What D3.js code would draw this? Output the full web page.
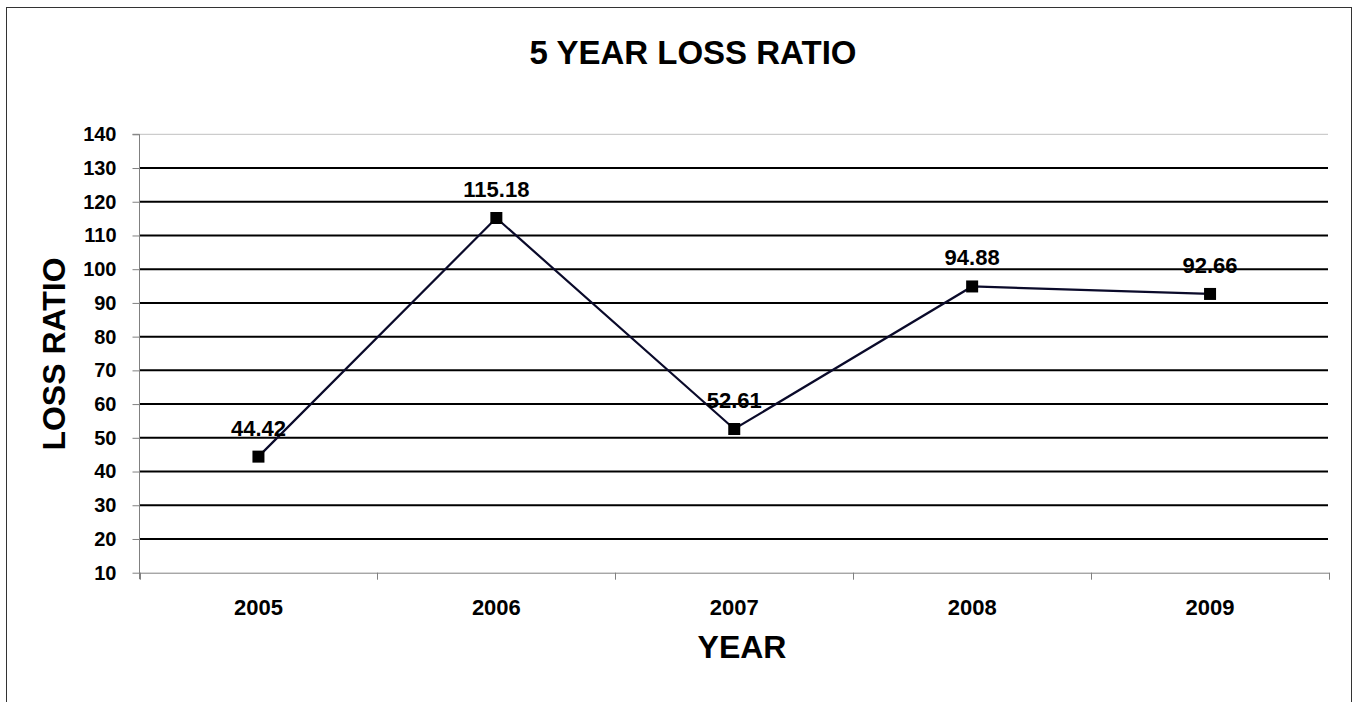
<!DOCTYPE html>
<html>
<head>
<meta charset="utf-8">
<script src="https://cdn.jsdelivr.net/npm/d3@7"></script>
<style>
  html, body { margin: 0; padding: 0; background: #fff; }
  svg { display: block; font-family: "Liberation Sans", Arial, sans-serif; }
</style>
</head>
<body>
<svg id="chart" width="1357" height="702"></svg>
<script>
const years = ["2005", "2006", "2007", "2008", "2009"];
const lossRatio = [44.42, 115.18, 52.61, 94.88, 92.66];
const yTicks = [10, 20, 30, 40, 50, 60, 70, 80, 90, 100, 110, 120, 130, 140];
const titleText = "5 YEAR LOSS RATIO";
const xTitle = "YEAR";
const yTitle = "LOSS RATIO";

const svg = d3.select("#chart");

// outer border
svg.append("rect")
  .attr("x", 6.5).attr("y", 7.5)
  .attr("width", 1345).attr("height", 720)
  .attr("fill", "none").attr("stroke", "#333").attr("stroke-width", 1);

const plotL = 139.5, plotR = 1329, plotT = 134.3, plotB = 572.7;

const x = d3.scaleBand().domain(years).range([plotL, plotR]);
const y = d3.scaleLinear().domain([10, 140]).range([plotB, plotT]);

// gridlines
svg.append("g").selectAll("line")
  .data(yTicks.filter(t => t > 10))
  .join("line")
  .attr("x1", plotL).attr("x2", plotR - 1)
  .attr("y1", d => y(d)).attr("y2", d => y(d))
  .attr("stroke", d => d === 140 ? "#c0c0c0" : "#000")
  .attr("stroke-width", d => d === 140 ? 1 : 2);

// y axis
const yAxis = d3.axisLeft(y).tickValues(yTicks).tickSize(7).tickPadding(16);
const gy = svg.append("g").attr("transform", `translate(${plotL},0)`).call(yAxis);
gy.select(".domain").attr("stroke", "#808080").attr("d", `M-7,${y(140)}H0V${plotB + 6.5}`);
gy.selectAll(".tick line").attr("stroke", "#808080");
gy.selectAll(".tick text")
  .attr("font-size", 20).attr("font-weight", "bold")
  .attr("font-family", "'Liberation Sans', Arial, sans-serif").attr("fill", "#000");

// x axis
const xAxis = d3.axisBottom(x).tickSize(0).tickPadding(0);
const gx = svg.append("g").attr("transform", `translate(0,${plotB})`).call(xAxis);
gx.select(".domain").attr("stroke", "#808080");
gx.selectAll(".tick text")
  .attr("font-size", 22).attr("font-weight", "bold")
  .attr("font-family", "'Liberation Sans', Arial, sans-serif").attr("fill", "#000")
  .attr("dy", null).attr("y", 42);
// boundary ticks
const bounds = years.map(d => x(d)).concat([plotR]);
svg.append("g").selectAll("line").data(bounds).join("line")
  .attr("x1", d => Math.round(d) + 0.5).attr("x2", d => Math.round(d) + 0.5)
  .attr("y1", plotB).attr("y2", plotB + 7)
  .attr("stroke", "#808080");

// line
const cx = d => x(d) + x.bandwidth() / 2;
const line = d3.line().x((d, i) => cx(years[i])).y(d => y(d));
svg.append("path").datum(lossRatio)
  .attr("d", line).attr("fill", "none")
  .attr("stroke", "#0a0a2a").attr("stroke-width", 2.2);

// markers
svg.append("g").selectAll("rect").data(lossRatio).join("rect")
  .attr("x", (d, i) => cx(years[i]) - 6).attr("y", d => y(d) - 6)
  .attr("width", 12).attr("height", 12).attr("fill", "#000");

// labels
svg.append("g").selectAll("text").data(lossRatio).join("text")
  .attr("x", (d, i) => cx(years[i])).attr("y", d => y(d) - 21)
  .attr("text-anchor", "middle")
  .attr("font-size", 22).attr("font-weight", "bold").attr("fill", "#000")
  .text(d => d.toFixed(2));

// title
svg.append("text").attr("x", 693).attr("y", 64)
  .attr("text-anchor", "middle").attr("font-size", 33).attr("font-weight", "bold")
  .text(titleText);

// axis titles
svg.append("text").attr("x", 742).attr("y", 658)
  .attr("text-anchor", "middle").attr("font-size", 32).attr("font-weight", "bold")
  .text(xTitle);
svg.append("text").attr("transform", "translate(65,354) rotate(-90)")
  .attr("text-anchor", "middle").attr("font-size", 32).attr("font-weight", "bold")
  .text(yTitle);
</script>
</body>
</html>
